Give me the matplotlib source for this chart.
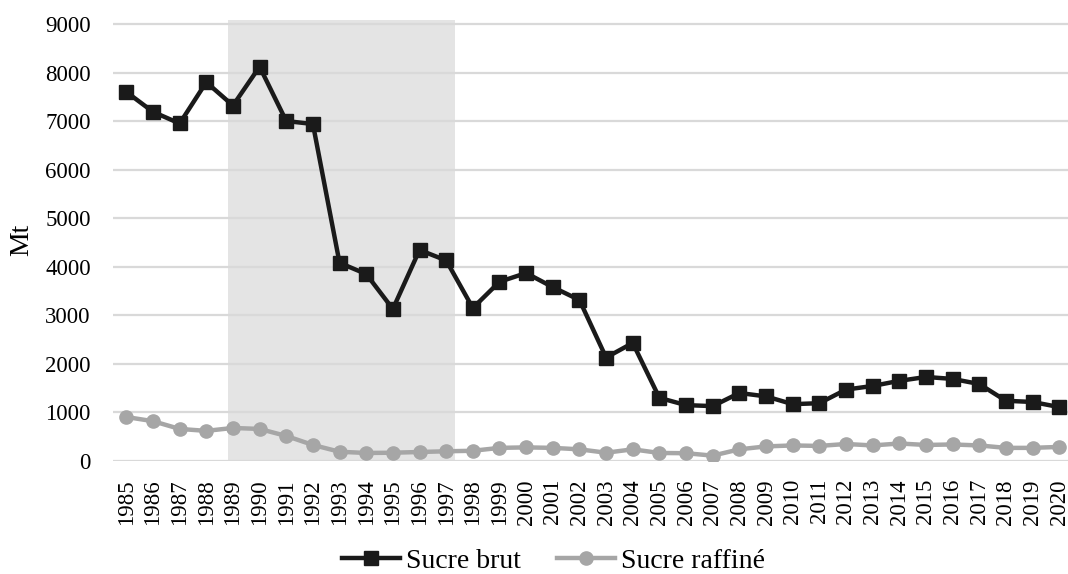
import matplotlib
matplotlib.use("Agg")
import matplotlib.pyplot as plt
import numpy as np

years = list(range(1985, 2021))
sucre_brut = [7600, 7190, 6950, 7800, 7320, 8120, 7000, 6940, 4080, 3850,
              3130, 4345, 4130, 3150, 3690, 3870, 3580, 3315, 2130, 2430,
              1300, 1150, 1130, 1400, 1330, 1170, 1190, 1470, 1545, 1650,
              1730, 1690, 1585, 1240, 1215, 1110]
sucre_raffine = [905, 820, 660, 620, 680, 660, 515, 330, 190, 165,
                 170, 185, 200, 210, 270, 280, 270, 240, 170, 240,
                 165, 160, 110, 240, 300, 320, 310, 350, 320, 360,
                 330, 340, 320, 270, 270, 290]
periode = (1988.8, 1997.35)

plt.rcParams['font.family'] = ['Liberation Serif', 'DejaVu Serif']

fig = plt.figure(figsize=(10.68, 5.74), dpi=100)
ax = fig.add_axes([0.1058, 0.1969, 0.8942, 0.769])

ax.axvspan(periode[0], periode[1], color='#e4e4e4', zorder=0, lw=0)
for v in range(0, 9001, 1000):
    ax.axhline(v, color='#d9d9d9', lw=1.6, zorder=1)

ax.plot(years, sucre_brut, color='#1a1a1a', lw=3.2, marker='s', ms=10.5,
        label='Sucre brut', zorder=3)
ax.plot(years, sucre_raffine, color='#a6a6a6', lw=3.2, marker='o', ms=9.5,
        label='Sucre raffiné', zorder=2)

ax.set_xlim(1984.5, 2020.33)
ax.set_ylim(0, 9090)
ax.set_xticks(years)
ax.set_xticklabels([str(y) for y in years], rotation=90, fontsize=16.5)
ax.set_yticks(range(0, 9001, 1000))
ax.tick_params(axis='y', length=0, pad=16, labelsize=16.5)
ax.tick_params(axis='x', length=0, pad=13)
for s in ax.spines.values():
    s.set_visible(False)

ax.set_ylabel('Mt', fontsize=20)
ax.yaxis.set_label_coords(-0.083, 0.5)

fig.legend(loc='center', bbox_to_anchor=(0.518, 0.022), ncol=2, frameon=False,
           fontsize=20, handlelength=2.1, handletextpad=0.2, columnspacing=1.3,
           borderaxespad=0, borderpad=0)

fig.savefig('out.png', dpi=100)
